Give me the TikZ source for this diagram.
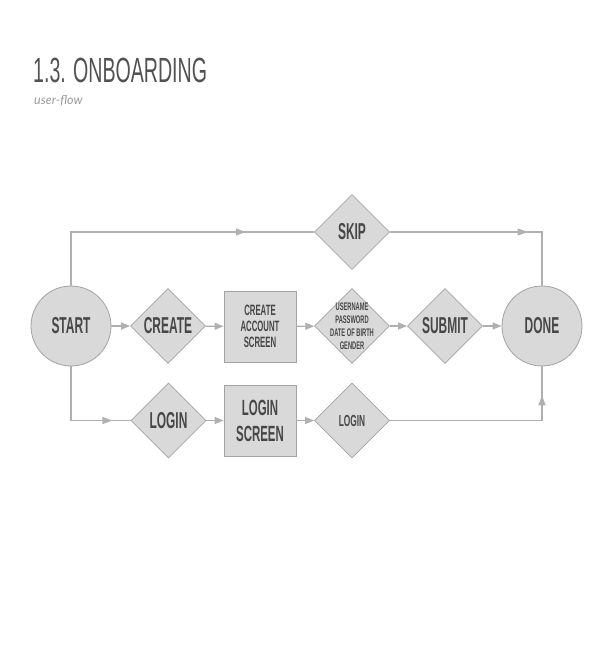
\documentclass[tikz,border=0pt]{standalone}
\usepackage{fontspec}
\setmainfont{Liberation Sans}
\newfontfamily\narrowfont[FakeStretch=0.52]{Liberation Sans}
\newfontfamily\titlefont[FakeStretch=0.56]{Liberation Sans}
\newfontfamily\latofont{Lato}
\usetikzlibrary{arrows.meta, shapes.geometric, decorations.markings}
\definecolor{boxfill}{HTML}{D9D9D9}
\definecolor{boxline}{HTML}{A3A3A3}
\definecolor{flowline}{HTML}{B0B0B0}
\definecolor{inktext}{HTML}{474747}
\tikzset{
  ter/.style={circle, draw=boxline, line width=0.8pt, fill=boxfill, minimum size=80pt, inner sep=0pt, text=inktext, font=\narrowfont\bfseries\fontsize{23}{26}\selectfont},
  dec/.style={diamond, draw=boxline, line width=0.8pt, fill=boxfill, minimum width=75pt, minimum height=75pt, inner sep=0pt, text=inktext, font=\narrowfont\bfseries\fontsize{23}{26}\selectfont},
  scr/.style={rectangle, draw=boxline, line width=0.8pt, fill=boxfill, minimum width=72pt, minimum height=71pt, inner sep=0pt, align=center, text=inktext},
  flow/.style={draw=flowline, line width=1.2pt, -{Triangle[length=9pt, width=7pt]}},
  link/.style={draw=flowline, color=flowline, line width=1.2pt},
  midtip/.style={decoration={markings, mark=at position #1 with {\arrow{Triangle[length=10pt, width=7pt]}}}, postaction={decorate}},
  small/.style={font=\narrowfont\bfseries\fontsize{15}{16}\selectfont},
  tiny/.style={font=\narrowfont\bfseries\fontsize{11}{13}\selectfont}
}

\begin{document}
\begin{tikzpicture}[x=1pt, y=-1pt]
  \useasboundingbox (0,0) rectangle (612,647);
  % heading
  \node[anchor=base west, inner sep=0pt, text=black!68, font=\titlefont\fontsize{35}{40}\selectfont] (title) at (33,83) {1.3. ONBOARDING};
  \node[anchor=base west, inner sep=0pt, text=black!40, font=\latofont\itshape\fontsize{12.5}{14}\selectfont] (sub) at (34,105) {user-flow};
  % nodes
  \node[ter] (start) at (71,326) {START};
  \node[dec] (create) at (168,326) {CREATE};
  \node[scr, small] (account) at (260,326.5) {CREATE\\ACCOUNT\\SCREEN};
  \node[dec, label={[tiny, text=inktext, align=center]center:USERNAME\\PASSWORD\\DATE OF BIRTH\\GENDER}] (details) at (352,326) {};
  \node[dec] (submit) at (445,326) {SUBMIT};
  \node[ter] (done) at (542,326) {DONE};
  \node[dec] (skip) at (352,232) {SKIP};
  \node[dec] (login) at (168.5,420.5) {LOGIN};
  \node[scr, font=\narrowfont\bfseries\fontsize{22}{26}\selectfont] (loginscr) at (260,420.5) {LOGIN\\SCREEN};
  \node[dec, font=\narrowfont\bfseries\fontsize{16}{18}\selectfont] (signin) at (352,420.5) {LOGIN};
  % middle row
  \draw[flow] (start) -- (create);
  \draw[flow] (create) -- (account);
  \draw[flow] (account) -- (details);
  \draw[flow] (details) -- (submit);
  \draw[flow] (submit) -- (done);
  % skip row
  \draw[link, midtip=0.77] (start.north) |- (skip.west);
  \draw[link, midtip=0.67] (skip.east) -| (done.north);
  % login row
  \draw[link, midtip=0.84] (start.south) |- (login.west);
  \draw[flow] (login) -- (loginscr);
  \draw[flow] (loginscr) -- (signin);
  \draw[link, midtip=0.86] (signin.east) -| (done.south);
\end{tikzpicture}
\end{document}
